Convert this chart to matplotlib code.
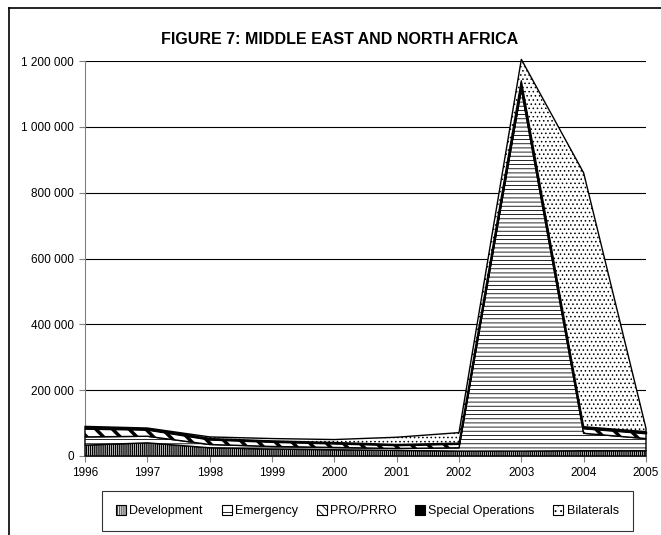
import matplotlib
matplotlib.use("Agg")
import matplotlib.pyplot as plt
import numpy as np
from matplotlib.patches import Patch
from matplotlib.lines import Line2D
from matplotlib.ticker import FuncFormatter, MultipleLocator

plt.rcParams['font.family'] = ['Liberation Sans', 'DejaVu Sans']

years = [1996, 1997, 1998, 1999, 2000, 2001, 2002, 2003, 2004, 2005]
development = [33000, 40000, 25000, 21000, 19000, 17000, 15000, 15000, 16000, 16000]
emergency = [25000, 20000, 10000, 8000, 7000, 6000, 10000, 1100000, 53000, 37000]
pro_prro = [25000, 20000, 15000, 14000, 12000, 10000, 12000, 10000, 15000, 16000]
special_ops = [3000, 2000, 3000, 3000, 3000, 2000, 2000, 15000, 5000, 5000]
bilaterals = [4000, 3000, 5000, 7000, 9000, 22000, 32000, 65000, 771000, 10000]

series_names = ["Development", "Emergency", "PRO/PRRO", "Special Operations", "Bilaterals"]
title = "FIGURE 7: MIDDLE EAST AND NORTH AFRICA"

styles = [
    dict(facecolor="white", hatch="||||||||", hatch_lw=1.0, leg_hatch="||||||||", leg_lw=1.0),
    dict(facecolor="white", hatch="----", hatch_lw=0.6, leg_hatch="--", leg_lw=0.8),
    dict(facecolor="white", hatch="\\\\", hatch_lw=2.5, leg_hatch="\\\\\\\\", leg_lw=1.6),
    dict(facecolor="black", hatch=None, hatch_lw=1.0, leg_hatch=None, leg_lw=1.0),
    dict(facecolor="white", hatch="....", hatch_lw=0.6, leg_hatch="...", leg_lw=0.6),
]


def set_hlw(artist, lw):
    if hasattr(artist, "set_hatch_linewidth"):
        try:
            artist.set_hatch_linewidth(lw)
        except Exception:
            pass


fig = plt.figure(figsize=(6.61, 5.35), dpi=100)
ax = fig.add_axes([85/661, 1-456/535, (646-85)/661, (456-61)/535])

x = np.array(years, dtype=float)
data = [development, emergency, pro_prro, special_ops, bilaterals]
base = np.zeros(len(years))
for vals, st in zip(data, styles):
    top = base + np.array(vals, dtype=float)
    plt.rcParams['hatch.linewidth'] = st['hatch_lw']
    poly = ax.fill_between(x, base, top, facecolor=st['facecolor'],
                           edgecolor="black", linewidth=1.0,
                           hatch=st['hatch'], clip_on=False, zorder=3)
    set_hlw(poly, st['hatch_lw'])
    base = top

ax.set_xlim(1996, 2005)
ax.set_ylim(0, 1200000)
ax.set_xticks(years)
ax.set_xticklabels([str(y) for y in years])
ax.yaxis.set_major_locator(MultipleLocator(200000))
ax.yaxis.set_major_formatter(FuncFormatter(lambda v, p: f"{int(v):,}".replace(",", " ")))
ax.grid(axis="y", color="black", linewidth=0.8, zorder=1)
ax.set_axisbelow(True)
for s in ["top", "right"]:
    ax.spines[s].set_visible(False)
ax.spines["left"].set_color("#808080")
ax.spines["bottom"].set_color("#808080")
ax.tick_params(axis="both", direction="out", length=4, width=0.8, color="#808080",
               labelsize=8.5, labelcolor="black", pad=4)

fig.text(340/661, 1-39/535, title, ha="center", va="center",
         fontsize=11.5, fontweight="bold")

handles = []
for name, st in zip(series_names, styles):
    p = Patch(facecolor=st['facecolor'], edgecolor="black",
              hatch=st['leg_hatch'], linewidth=0.8, label=name)
    set_hlw(p, st['leg_lw'])
    handles.append(p)
leg = fig.legend(handles=handles, loc="center", ncol=5,
                 bbox_to_anchor=(367.5/661, 1-511/535),
                 fontsize=9, frameon=True, fancybox=False,
                 handlelength=0.8, handleheight=0.8, handletextpad=0.25,
                 columnspacing=1.5, borderpad=1.15, borderaxespad=0.0)
leg.get_frame().set_edgecolor("black")
leg.get_frame().set_linewidth(0.8)

fig.add_artist(Line2D([9/661, 9/661], [0, 1-8/535], color="black", linewidth=1.2,
                      transform=fig.transFigure))
fig.add_artist(Line2D([9/661, 1], [1-8/535, 1-8/535], color="black", linewidth=1.2,
                      transform=fig.transFigure))

fig.savefig("out.png", dpi=100)
